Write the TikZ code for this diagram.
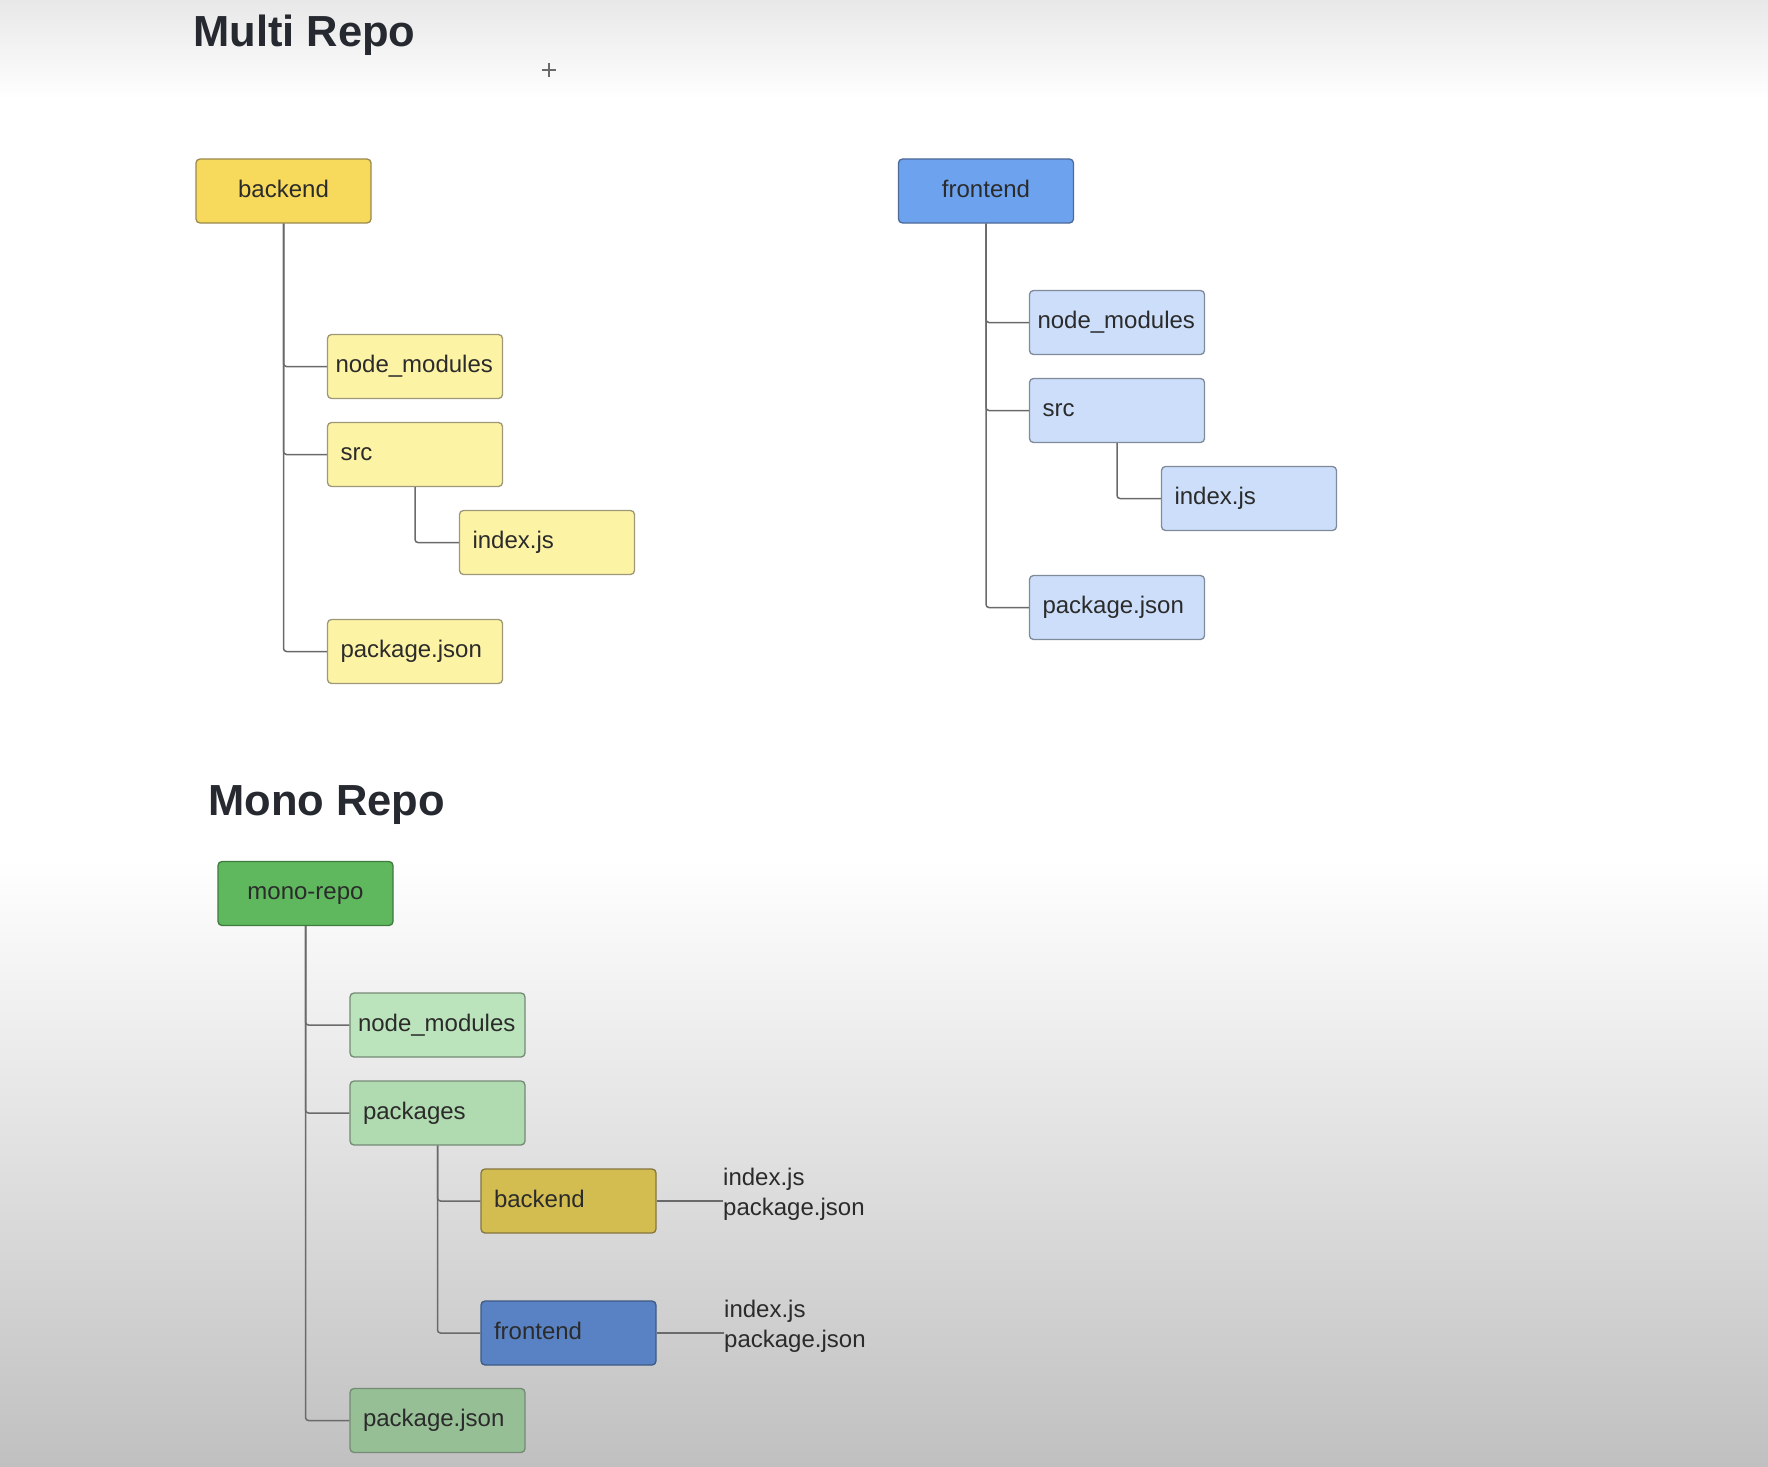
\documentclass[tikz,border=0pt]{standalone}
\usepackage{fontspec}
\setmainfont{Liberation Sans}
\definecolor{conn}{HTML}{6A6A6A}
\definecolor{txt}{HTML}{2B2B2B}
\definecolor{ttl}{HTML}{26292F}
\definecolor{yTop}{HTML}{F7D95B}
\definecolor{yTopB}{HTML}{9A8A50}
\definecolor{yCh}{HTML}{FDF3A5}
\definecolor{yChB}{HTML}{9E9878}
\definecolor{bTop}{HTML}{6DA3EE}
\definecolor{bTopB}{HTML}{4D6A98}
\definecolor{bCh}{HTML}{CCDEF9}
\definecolor{bChB}{HTML}{7F8A9B}
\definecolor{gTop}{HTML}{5FB85E}
\definecolor{gTopB}{HTML}{3F7A3E}
\definecolor{gNm}{HTML}{BCE4BC}
\definecolor{gPk}{HTML}{B0DAAF}
\definecolor{gPj}{HTML}{97BF96}
\definecolor{gChB}{HTML}{758A75}
\definecolor{mBe}{HTML}{D4BD50}
\definecolor{mBeB}{HTML}{857540}
\definecolor{mFe}{HTML}{5982C4}
\definecolor{mFeB}{HTML}{3E5A85}
\tikzset{
  box/.style={rectangle, rounded corners=4pt, minimum width=175pt, minimum height=64pt,
    text width=149pt, align=left, inner xsep=13pt, line width=1.3pt, text=txt,
    text height=17pt, text depth=5pt, font=\fontsize{24}{29}\selectfont},
  topbox/.style={box, align=center},
  wide/.style={inner xsep=8pt, text width=159pt},
  conline/.style={draw=conn, line width=1.5pt, rounded corners=3pt},
  ttlstyle/.style={anchor=base west, inner sep=0pt, text=ttl, font=\fontsize{43.5}{50}\selectfont\bfseries},
  side/.style={anchor=west, inner sep=0pt, align=left, text=txt, font=\fontsize{24}{30}\selectfont}
}
\begin{document}
\begin{tikzpicture}[x=1pt,y=-1pt]
% background
\useasboundingbox (0,0) rectangle (1768,1466);
\fill[white] (0,0) rectangle (1768,1466);
\shade[top color={rgb,255:red,232;green,232;blue,232}, bottom color=white] (0,0) rectangle (1768,100);
\shade[top color=white, bottom color={rgb,255:red,192;green,192;blue,192}] (0,860) rectangle (1768,1466.5);
% titles
\node[ttlstyle] (t1) at (193,47) {Multi Repo};
\node[ttlstyle] (t2) at (208,815) {Mono Repo};
% cursor cross
\draw[conn, line width=1.2pt] (542,70) -- (556,70) (549,63) -- (549,77);
% backend tree
\node[topbox, fill=yTop, draw=yTopB] (be) at (283.5,191) {backend};
\node[box, wide, fill=yCh, draw=yChB] (bnm) at (415,366.5) {node\_modules};
\node[box, fill=yCh, draw=yChB] (bsrc) at (415,454.5) {src};
\node[box, fill=yCh, draw=yChB] (bidx) at (547,542.5) {index.js};
\node[box, fill=yCh, draw=yChB] (bpkg) at (415,651.5) {package.json};
\draw[conline] (be.south) |- (bnm.west);
\draw[conline] (be.south) |- (bsrc.west);
\draw[conline] (be.south) |- (bpkg.west);
\draw[conline] (bsrc.south) |- (bidx.west);
% frontend tree
\node[topbox, fill=bTop, draw=bTopB] (fe) at (986,191) {frontend};
\node[box, wide, fill=bCh, draw=bChB] (fnm) at (1117,322.5) {node\_modules};
\node[box, fill=bCh, draw=bChB] (fsrc) at (1117,410.5) {src};
\node[box, fill=bCh, draw=bChB] (fidx) at (1249,498.5) {index.js};
\node[box, fill=bCh, draw=bChB] (fpkg) at (1117,607.5) {package.json};
\draw[conline] (fe.south) |- (fnm.west);
\draw[conline] (fe.south) |- (fsrc.west);
\draw[conline] (fe.south) |- (fpkg.west);
\draw[conline] (fsrc.south) |- (fidx.west);
% mono repo tree
\node[topbox, fill=gTop, draw=gTopB] (mr) at (305.5,893.5) {mono-repo};
\node[box, wide, fill=gNm, draw=gChB] (mnm) at (437.5,1025) {node\_modules};
\node[box, fill=gPk, draw=gChB] (mpk) at (437.5,1113) {packages};
\node[box, fill=mBe, draw=mBeB] (mbe) at (568.5,1201) {backend};
\node[box, fill=mFe, draw=mFeB] (mfe) at (568.5,1333) {frontend};
\node[box, fill=gPj, draw=gChB] (mpj) at (437.5,1420.5) {package.json};
\draw[conline] (mr.south) |- (mnm.west);
\draw[conline] (mr.south) |- (mpk.west);
\draw[conline] (mr.south) |- (mpj.west);
\draw[conline] (mpk.south) |- (mbe.west);
\draw[conline] (mpk.south) |- (mfe.west);
\node[side] (mbeT) at (723,1194) {index.js\\package.json};
\node[side] (mfeT) at (724,1326) {index.js\\package.json};
\draw[conline] (mbe.east) -- (mbe.east -| mbeT.west);
\draw[conline] (mfe.east) -- (mfe.east -| mfeT.west);
\end{tikzpicture}
\end{document}
